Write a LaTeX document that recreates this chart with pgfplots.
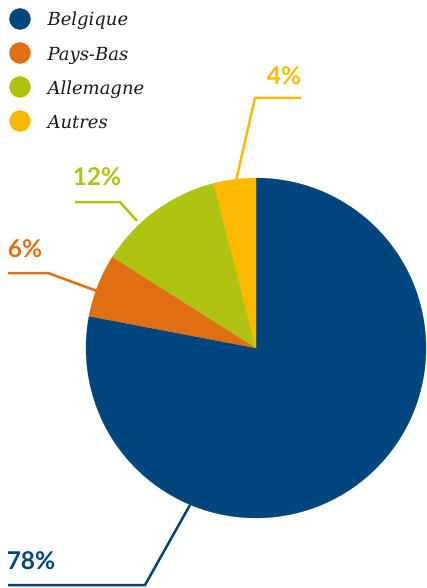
\documentclass[border=0pt]{standalone}
\usepackage{pgfplots}
\pgfplotsset{compat=1.18}
\usepackage{fontspec}
\setmainfont{Lato}
\newfontfamily\legfont{DejaVu Serif}
\definecolor{cBel}{HTML}{00467E}
\definecolor{cPay}{HTML}{E06E12}
\definecolor{cAll}{HTML}{AFC311}
\definecolor{cAut}{HTML}{FBBA00}
\definecolor{cTxt}{HTML}{1A1A1A}
\begin{document}
\begin{tikzpicture}
% shares in percent: Belgique 78, Pays-Bas 6, Allemagne 12, Autres 4
\pgfmathsetmacro{\aA}{90}
\pgfmathsetmacro{\aB}{\aA-3.6*78}
\pgfmathsetmacro{\aC}{\aB-3.6*6}
\pgfmathsetmacro{\aD}{\aC-3.6*12}
\pgfmathsetmacro{\aE}{\aD-3.6*4}
\begin{axis}[x=1pt,y=1pt,xmin=0,xmax=425,ymin=0,ymax=588,y dir=reverse,
  hide axis,clip=false]
\path (0,0) rectangle (425,588);
\addplot[fill=cBel,draw=cBel,line width=0.2pt,domain=\aB:\aA,samples=160,variable=\t]
  ({256+170*cos(\t)},{348-170*sin(\t)}) -- (256,348) -- cycle;
\addplot[fill=cPay,draw=cPay,line width=0.2pt,domain=\aC:\aB,samples=30,variable=\t]
  ({256+170*cos(\t)},{348-170*sin(\t)}) -- (256,348) -- cycle;
\addplot[fill=cAll,draw=cAll,line width=0.2pt,domain=\aD:\aC,samples=40,variable=\t]
  ({256+170*cos(\t)},{348-170*sin(\t)}) -- (256,348) -- cycle;
\addplot[fill=cAut,draw=cAut,line width=0.2pt,domain=\aE:\aD,samples=20,variable=\t]
  ({256+170*cos(\t)},{348-170*sin(\t)}) -- (256,348) -- cycle;
% leader lines
\addplot[cAut,line width=2.5pt,mark=none] coordinates {(236,181) (255,98) (301,98)};
\addplot[cAll,line width=2.5pt,mark=none] coordinates {(137,221) (120,202) (75,202)};
\addplot[cPay,line width=2.5pt,mark=none] coordinates {(97,291) (48,273) (8,273)};
\addplot[cBel,line width=2.5pt,mark=none] coordinates {(190,505) (145,585) (8,585)};
% labels
\node[cAut,font=\bfseries\fontsize{24.5}{25}\selectfont,anchor=base] at (284,85) {4\%};
\node[cAll,font=\bfseries\fontsize{24.5}{25}\selectfont,anchor=base] at (97,185) {12\%};
\node[cPay,font=\bfseries\fontsize{24.5}{25}\selectfont,anchor=base] at (25,257) {6\%};
\node[cBel,font=\bfseries\fontsize{24.5}{25}\selectfont,anchor=base] at (31,569) {78\%};
% legend
\addplot[only marks,mark=*,mark size=10.5pt,cBel] coordinates {(20,19)};
\addplot[only marks,mark=*,mark size=10.5pt,cPay] coordinates {(20,53)};
\addplot[only marks,mark=*,mark size=10.5pt,cAll] coordinates {(20,87)};
\addplot[only marks,mark=*,mark size=10.5pt,cAut] coordinates {(20,121)};
\node[cTxt,font=\legfont\itshape\fontsize{18}{18}\selectfont,anchor=base west] at (44,26) {Belgique};
\node[cTxt,font=\legfont\itshape\fontsize{18}{18}\selectfont,anchor=base west] at (44,61) {Pays-Bas};
\node[cTxt,font=\legfont\itshape\fontsize{18}{18}\selectfont,anchor=base west] at (44,95) {Allemagne};
\node[cTxt,font=\legfont\itshape\fontsize{18}{18}\selectfont,anchor=base west] at (44,129) {Autres};
\end{axis}
\end{tikzpicture}
\end{document}
